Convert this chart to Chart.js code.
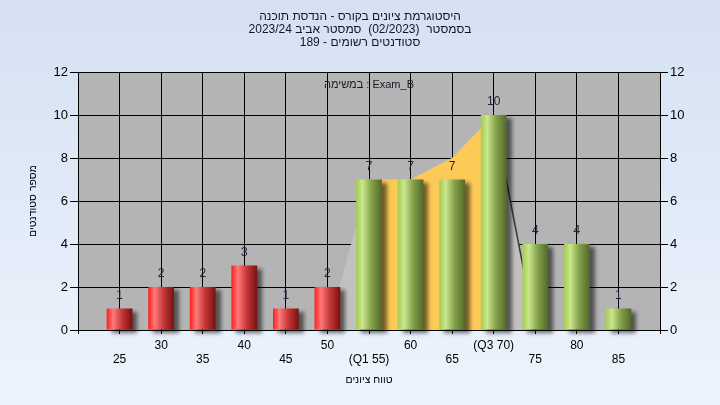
<!DOCTYPE html>
<html>
<head>
<meta charset="utf-8">
<script src="https://cdn.jsdelivr.net/npm/chart.js@4.4.0/dist/chart.umd.min.js"></script>
<style>
  html, body { margin: 0; padding: 0; }
  body { width: 720px; height: 405px; overflow: hidden; background: linear-gradient(#d5e1f2, #edf4fd); }
  canvas { display: block; }
</style>
</head>
<body>
<canvas id="grades-chart" width="720" height="405"></canvas>
<script>
// Grades histogram
const grades = [25, 30, 35, 40, 45, 50, 55, 60, 65, 70, 75, 80, 85];
const counts = [1, 2, 2, 3, 1, 2, 7, 7, 7, 10, 4, 4, 1];
const gradeLabels = ['25', '30', '35', '40', '45', '50', '(Q1 55)', '60', '65', '(Q3 70)', '75', '80', '85'];
const q1 = 55;

// outline of the distribution and the Q1-Q3 band behind the bars
const curveGrades = [50, 55, 60, 65, 70, 75];
const curveValues = [0, 7, 7, 8, 10, 0];
const bandGrades = [55, 60, 65, 70];
const bandValues = [7, 7, 8, 10];

const titleLines = [
  'היסטוגרמת ציונים בקורס - הנדסת תוכנה',
  'בסמסטר  (02/2023)  סמסטר אביב 2023/24',
  'סטודנטים רשומים - 189'
];
const taskText = 'במשימה : Exam_B';

Chart.defaults.font.family = '"Liberation Sans", "DejaVu Sans", Arial, sans-serif';

const redStops = ['#ff1c1c', '#ff7a7a', '#c43636', '#781010'];
const greenStops = ['#a2cd4e', '#cbe68e', '#82a048', '#53692a'];

function barFill(ctx) {
  const chart = ctx.chart;
  const xs = chart.scales.x;
  const stops = grades[ctx.dataIndex] < q1 ? redStops : greenStops;
  if (!xs || ctx.dataIndex === undefined) return stops[0];
  const cx = xs.getPixelForValue(grades[ctx.dataIndex]);
  const half = (xs.getPixelForValue(grades[0] + 5) - xs.getPixelForValue(grades[0])) * 0.31;
  if (!isFinite(cx) || !isFinite(half)) return stops[0];
  const g = chart.ctx.createLinearGradient(cx - half, 0, cx + half, 0);
  g.addColorStop(0, stops[0]);
  g.addColorStop(0.25, stops[1]);
  g.addColorStop(0.6, stops[2]);
  g.addColorStop(1, stops[3]);
  return g;
}

const plotDecor = {
  id: 'plotDecor',
  beforeDraw(chart) {
    const {ctx, chartArea: a} = chart;
    ctx.save();
    ctx.fillStyle = '#b4b4b4';
    ctx.fillRect(a.left, a.top, a.right - a.left, a.bottom - a.top);
    ctx.restore();
  },
  beforeDatasetDraw(chart, args) {
    if (args.index !== 0) return;
    const ctx = chart.ctx;
    ctx.save();
    ctx.shadowColor = 'rgba(0,0,0,0.55)';
    ctx.shadowBlur = 4;
    ctx.shadowOffsetX = 5;
    ctx.shadowOffsetY = 3;
  },
  afterDatasetDraw(chart, args) {
    if (args.index === 0) chart.ctx.restore();
  },
  afterDatasetsDraw(chart) {
    const {ctx, chartArea: a} = chart;
    const meta = chart.getDatasetMeta(0);
    ctx.save();
    ctx.font = '12px "Liberation Sans", "DejaVu Sans", Arial, sans-serif';
    ctx.fillStyle = '#1c2340';
    ctx.textAlign = 'center';
    ctx.textBaseline = 'middle';
    meta.data.forEach((bar, i) => ctx.fillText(String(counts[i]), bar.x, bar.y - 13));
    ctx.font = '11px "Liberation Sans", "DejaVu Sans", Arial, sans-serif';
    ctx.fillStyle = '#1a1a2a';
    ctx.fillText(taskText, (a.left + a.right) / 2, a.top + 13);
    ctx.restore();
  }
};

const barData = grades.map((g, i) => ({x: g, y: counts[i]}));
const curveData = curveGrades.map((g, i) => ({x: g, y: curveValues[i]}));
const bandData = bandGrades.map((g, i) => ({x: g, y: bandValues[i]}));
const darkSegment = curveGrades.indexOf(70);

const gradesConfig = {
  type: 'bar',
  data: {
    datasets: [
      {
        type: 'bar',
        label: 'סטודנטים',
        data: barData,
        backgroundColor: barFill,
        categoryPercentage: 1,
        barPercentage: 0.62,
        order: 0,
        clip: false
      },
      {
        type: 'line',
        data: bandData,
        fill: 'origin',
        backgroundColor: '#fdc957',
        borderWidth: 0,
        pointRadius: 0,
        tension: 0,
        order: 1
      },
      {
        type: 'line',
        data: curveData,
        fill: 'origin',
        backgroundColor: '#c1c1c1',
        borderWidth: 1.5,
        borderColor: 'rgba(0,0,0,0)',
        segment: {
          borderColor: c => c.p0DataIndex === darkSegment ? '#3a3a3a' : 'rgba(0,0,0,0)'
        },
        pointRadius: 0,
        tension: 0,
        order: 2
      }
    ]
  },
  options: {
    responsive: false,
    animation: false,
    layout: { padding: 0 },
    plugins: {
      legend: { display: false },
      tooltip: { enabled: false },
      title: {
        display: true,
        text: titleLines,
        rtl: true,
        color: '#15152a',
        font: { size: 12, weight: 'normal', lineHeight: '13px' },
        padding: { top: 10, bottom: 23 }
      }
    },
    scales: {
      x: {
        type: 'linear',
        min: 20,
        max: 90,
        offset: false,
        grid: { color: '#000', tickLength: 4, offset: false },
        border: { color: '#000' },
        ticks: {
          stepSize: 5,
          autoSkip: false,
          maxRotation: 0,
          padding: 4,
          color: '#000',
          font: { size: 12 },
          callback: v => {
            const i = grades.indexOf(v);
            if (i < 0) return '';
            return i % 2 === 0 ? ['', gradeLabels[i]] : [gradeLabels[i], ''];
          }
        },
        title: {
          display: true,
          text: 'טווח ציונים',
          color: '#000',
          font: { size: 10.5 },
          padding: { top: 0, bottom: 19 }
        },
        afterFit: s => { s.height = 75; }
      },
      y: {
        min: 0,
        max: 12,
        grid: { color: '#000', tickLength: 8 },
        border: { color: '#000' },
        ticks: { stepSize: 2, padding: 2, color: '#000', font: { size: 13 } },
        title: {
          display: true,
          text: 'מספר סטודנטים',
          color: '#000',
          font: { size: 10.5 },
          padding: { top: 27, bottom: 0 }
        },
        afterFit: s => { s.width = 78; }
      },
      y2: {
        position: 'right',
        min: 0,
        max: 12,
        grid: { drawOnChartArea: false, color: '#000', tickLength: 8 },
        border: { color: '#000' },
        ticks: { stepSize: 2, padding: 2, color: '#000', font: { size: 13 } },
        afterFit: s => { s.width = 60; }
      }
    }
  },
  plugins: [plotDecor]
};

new Chart(document.getElementById('grades-chart'), gradesConfig);
</script>
</body>
</html>
